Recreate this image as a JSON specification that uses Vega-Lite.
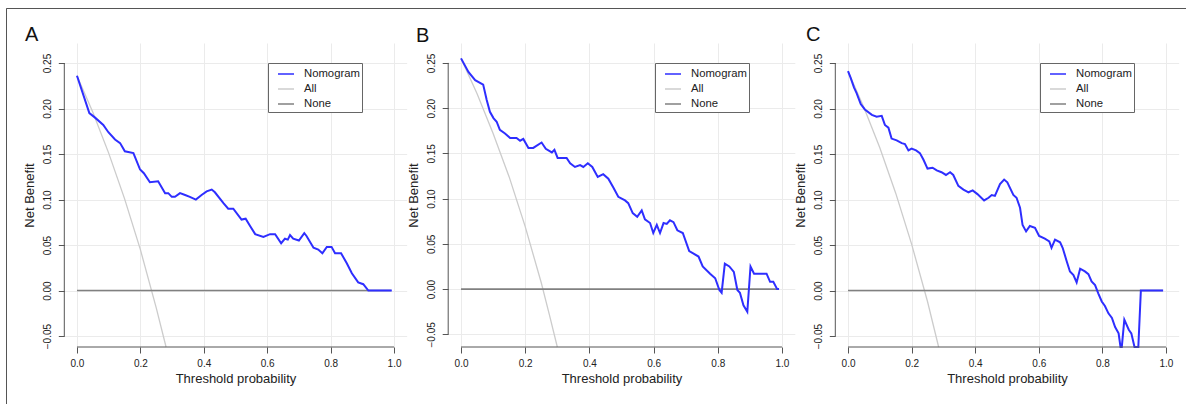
{
  "$schema": "https://vega.github.io/schema/vega-lite/v6.json",
  "width": 1180,
  "height": 396,
  "autosize": {"type": "none"},
  "padding": {"left": 6, "top": 8, "right": 0, "bottom": 0},
  "config": {
    "font": "Liberation Sans",
    "view": {"stroke": "#555555", "strokeWidth": 1, "strokeDash": [1180, 1576, 396]},
    "axis": {"labelFont": "Liberation Sans", "titleFont": "Liberation Sans", "labelColor": "#222222", "titleColor": "#222222", "tickColor": "#555555", "gridColor": "#ebebeb", "gridWidth": 1, "titleFontWeight": "normal", "labelFontSize": 10, "titleFontSize": 13},
    "legend": {"labelFont": "Liberation Sans", "labelColor": "#222222"}
  },
  "datasets": {
    "A": [
      {"series": "All", "threshold": 0, "net_benefit": 0.236},
      {"series": "All", "threshold": 0.05, "net_benefit": 0.196},
      {"series": "All", "threshold": 0.1, "net_benefit": 0.151},
      {"series": "All", "threshold": 0.15, "net_benefit": 0.101},
      {"series": "All", "threshold": 0.2, "net_benefit": 0.045},
      {"series": "All", "threshold": 0.25, "net_benefit": -0.019},
      {"series": "All", "threshold": 0.281, "net_benefit": -0.062},
      {"series": "None", "threshold": 0, "net_benefit": 0},
      {"series": "None", "threshold": 0.99, "net_benefit": 0},
      {"series": "Nomogram", "threshold": 0, "net_benefit": 0.236},
      {"series": "Nomogram", "threshold": 0.039, "net_benefit": 0.195},
      {"series": "Nomogram", "threshold": 0.057, "net_benefit": 0.19},
      {"series": "Nomogram", "threshold": 0.083, "net_benefit": 0.182},
      {"series": "Nomogram", "threshold": 0.099, "net_benefit": 0.174},
      {"series": "Nomogram", "threshold": 0.12, "net_benefit": 0.166},
      {"series": "Nomogram", "threshold": 0.136, "net_benefit": 0.162},
      {"series": "Nomogram", "threshold": 0.151, "net_benefit": 0.153},
      {"series": "Nomogram", "threshold": 0.178, "net_benefit": 0.151},
      {"series": "Nomogram", "threshold": 0.199, "net_benefit": 0.133},
      {"series": "Nomogram", "threshold": 0.211, "net_benefit": 0.129},
      {"series": "Nomogram", "threshold": 0.23, "net_benefit": 0.119},
      {"series": "Nomogram", "threshold": 0.256, "net_benefit": 0.12},
      {"series": "Nomogram", "threshold": 0.278, "net_benefit": 0.107},
      {"series": "Nomogram", "threshold": 0.288, "net_benefit": 0.107},
      {"series": "Nomogram", "threshold": 0.299, "net_benefit": 0.103},
      {"series": "Nomogram", "threshold": 0.309, "net_benefit": 0.103},
      {"series": "Nomogram", "threshold": 0.325, "net_benefit": 0.107},
      {"series": "Nomogram", "threshold": 0.341, "net_benefit": 0.105},
      {"series": "Nomogram", "threshold": 0.356, "net_benefit": 0.103},
      {"series": "Nomogram", "threshold": 0.375, "net_benefit": 0.1},
      {"series": "Nomogram", "threshold": 0.393, "net_benefit": 0.105},
      {"series": "Nomogram", "threshold": 0.409, "net_benefit": 0.109},
      {"series": "Nomogram", "threshold": 0.425, "net_benefit": 0.111},
      {"series": "Nomogram", "threshold": 0.435, "net_benefit": 0.108},
      {"series": "Nomogram", "threshold": 0.462, "net_benefit": 0.096},
      {"series": "Nomogram", "threshold": 0.477, "net_benefit": 0.09},
      {"series": "Nomogram", "threshold": 0.493, "net_benefit": 0.09},
      {"series": "Nomogram", "threshold": 0.519, "net_benefit": 0.078},
      {"series": "Nomogram", "threshold": 0.532, "net_benefit": 0.079},
      {"series": "Nomogram", "threshold": 0.546, "net_benefit": 0.071},
      {"series": "Nomogram", "threshold": 0.562, "net_benefit": 0.062},
      {"series": "Nomogram", "threshold": 0.588, "net_benefit": 0.059},
      {"series": "Nomogram", "threshold": 0.609, "net_benefit": 0.062},
      {"series": "Nomogram", "threshold": 0.625, "net_benefit": 0.062},
      {"series": "Nomogram", "threshold": 0.644, "net_benefit": 0.052},
      {"series": "Nomogram", "threshold": 0.656, "net_benefit": 0.057},
      {"series": "Nomogram", "threshold": 0.665, "net_benefit": 0.056},
      {"series": "Nomogram", "threshold": 0.672, "net_benefit": 0.061},
      {"series": "Nomogram", "threshold": 0.682, "net_benefit": 0.057},
      {"series": "Nomogram", "threshold": 0.7, "net_benefit": 0.055},
      {"series": "Nomogram", "threshold": 0.717, "net_benefit": 0.063},
      {"series": "Nomogram", "threshold": 0.724, "net_benefit": 0.06},
      {"series": "Nomogram", "threshold": 0.746, "net_benefit": 0.047},
      {"series": "Nomogram", "threshold": 0.761, "net_benefit": 0.045},
      {"series": "Nomogram", "threshold": 0.774, "net_benefit": 0.041},
      {"series": "Nomogram", "threshold": 0.788, "net_benefit": 0.048},
      {"series": "Nomogram", "threshold": 0.803, "net_benefit": 0.048},
      {"series": "Nomogram", "threshold": 0.814, "net_benefit": 0.041},
      {"series": "Nomogram", "threshold": 0.833, "net_benefit": 0.041},
      {"series": "Nomogram", "threshold": 0.851, "net_benefit": 0.03},
      {"series": "Nomogram", "threshold": 0.867, "net_benefit": 0.019},
      {"series": "Nomogram", "threshold": 0.887, "net_benefit": 0.009},
      {"series": "Nomogram", "threshold": 0.903, "net_benefit": 0.007},
      {"series": "Nomogram", "threshold": 0.919, "net_benefit": 0},
      {"series": "Nomogram", "threshold": 0.993, "net_benefit": 0}
    ],
    "B": [
      {"series": "All", "threshold": 0, "net_benefit": 0.255},
      {"series": "All", "threshold": 0.05, "net_benefit": 0.216},
      {"series": "All", "threshold": 0.1, "net_benefit": 0.172},
      {"series": "All", "threshold": 0.15, "net_benefit": 0.124},
      {"series": "All", "threshold": 0.2, "net_benefit": 0.069},
      {"series": "All", "threshold": 0.25, "net_benefit": 0.007},
      {"series": "All", "threshold": 0.275, "net_benefit": -0.028},
      {"series": "All", "threshold": 0.3, "net_benefit": -0.064},
      {"series": "None", "threshold": 0, "net_benefit": 0},
      {"series": "None", "threshold": 0.99, "net_benefit": 0},
      {"series": "Nomogram", "threshold": 0, "net_benefit": 0.255},
      {"series": "Nomogram", "threshold": 0.023, "net_benefit": 0.24},
      {"series": "Nomogram", "threshold": 0.044, "net_benefit": 0.231},
      {"series": "Nomogram", "threshold": 0.069, "net_benefit": 0.226},
      {"series": "Nomogram", "threshold": 0.08, "net_benefit": 0.209},
      {"series": "Nomogram", "threshold": 0.09, "net_benefit": 0.196},
      {"series": "Nomogram", "threshold": 0.101, "net_benefit": 0.189},
      {"series": "Nomogram", "threshold": 0.111, "net_benefit": 0.185},
      {"series": "Nomogram", "threshold": 0.121, "net_benefit": 0.176},
      {"series": "Nomogram", "threshold": 0.137, "net_benefit": 0.172},
      {"series": "Nomogram", "threshold": 0.153, "net_benefit": 0.167},
      {"series": "Nomogram", "threshold": 0.173, "net_benefit": 0.167},
      {"series": "Nomogram", "threshold": 0.184, "net_benefit": 0.164},
      {"series": "Nomogram", "threshold": 0.194, "net_benefit": 0.166},
      {"series": "Nomogram", "threshold": 0.21, "net_benefit": 0.156},
      {"series": "Nomogram", "threshold": 0.225, "net_benefit": 0.156},
      {"series": "Nomogram", "threshold": 0.251, "net_benefit": 0.162},
      {"series": "Nomogram", "threshold": 0.264, "net_benefit": 0.155},
      {"series": "Nomogram", "threshold": 0.283, "net_benefit": 0.151},
      {"series": "Nomogram", "threshold": 0.291, "net_benefit": 0.154},
      {"series": "Nomogram", "threshold": 0.301, "net_benefit": 0.145},
      {"series": "Nomogram", "threshold": 0.314, "net_benefit": 0.145},
      {"series": "Nomogram", "threshold": 0.329, "net_benefit": 0.145},
      {"series": "Nomogram", "threshold": 0.34, "net_benefit": 0.139},
      {"series": "Nomogram", "threshold": 0.355, "net_benefit": 0.135},
      {"series": "Nomogram", "threshold": 0.371, "net_benefit": 0.137},
      {"series": "Nomogram", "threshold": 0.381, "net_benefit": 0.135},
      {"series": "Nomogram", "threshold": 0.395, "net_benefit": 0.139},
      {"series": "Nomogram", "threshold": 0.409, "net_benefit": 0.135},
      {"series": "Nomogram", "threshold": 0.426, "net_benefit": 0.124},
      {"series": "Nomogram", "threshold": 0.443, "net_benefit": 0.127},
      {"series": "Nomogram", "threshold": 0.459, "net_benefit": 0.122},
      {"series": "Nomogram", "threshold": 0.475, "net_benefit": 0.112},
      {"series": "Nomogram", "threshold": 0.49, "net_benefit": 0.102},
      {"series": "Nomogram", "threshold": 0.511, "net_benefit": 0.098},
      {"series": "Nomogram", "threshold": 0.521, "net_benefit": 0.095},
      {"series": "Nomogram", "threshold": 0.535, "net_benefit": 0.084},
      {"series": "Nomogram", "threshold": 0.549, "net_benefit": 0.08},
      {"series": "Nomogram", "threshold": 0.563, "net_benefit": 0.087},
      {"series": "Nomogram", "threshold": 0.573, "net_benefit": 0.077},
      {"series": "Nomogram", "threshold": 0.589, "net_benefit": 0.073},
      {"series": "Nomogram", "threshold": 0.599, "net_benefit": 0.062},
      {"series": "Nomogram", "threshold": 0.61, "net_benefit": 0.071},
      {"series": "Nomogram", "threshold": 0.62, "net_benefit": 0.062},
      {"series": "Nomogram", "threshold": 0.631, "net_benefit": 0.073},
      {"series": "Nomogram", "threshold": 0.641, "net_benefit": 0.072},
      {"series": "Nomogram", "threshold": 0.651, "net_benefit": 0.076},
      {"series": "Nomogram", "threshold": 0.662, "net_benefit": 0.074},
      {"series": "Nomogram", "threshold": 0.674, "net_benefit": 0.065},
      {"series": "Nomogram", "threshold": 0.691, "net_benefit": 0.062},
      {"series": "Nomogram", "threshold": 0.711, "net_benefit": 0.042},
      {"series": "Nomogram", "threshold": 0.74, "net_benefit": 0.036},
      {"series": "Nomogram", "threshold": 0.753, "net_benefit": 0.025},
      {"series": "Nomogram", "threshold": 0.776, "net_benefit": 0.017},
      {"series": "Nomogram", "threshold": 0.792, "net_benefit": 0.012},
      {"series": "Nomogram", "threshold": 0.805, "net_benefit": -0.001},
      {"series": "Nomogram", "threshold": 0.812, "net_benefit": -0.004},
      {"series": "Nomogram", "threshold": 0.822, "net_benefit": 0.028},
      {"series": "Nomogram", "threshold": 0.836, "net_benefit": 0.025},
      {"series": "Nomogram", "threshold": 0.85, "net_benefit": 0.019},
      {"series": "Nomogram", "threshold": 0.861, "net_benefit": -0.001},
      {"series": "Nomogram", "threshold": 0.869, "net_benefit": -0.004},
      {"series": "Nomogram", "threshold": 0.88, "net_benefit": -0.018},
      {"series": "Nomogram", "threshold": 0.892, "net_benefit": -0.025},
      {"series": "Nomogram", "threshold": 0.902, "net_benefit": 0.025},
      {"series": "Nomogram", "threshold": 0.913, "net_benefit": 0.017},
      {"series": "Nomogram", "threshold": 0.952, "net_benefit": 0.017},
      {"series": "Nomogram", "threshold": 0.963, "net_benefit": 0.008},
      {"series": "Nomogram", "threshold": 0.973, "net_benefit": 0.008},
      {"series": "Nomogram", "threshold": 0.985, "net_benefit": 0},
      {"series": "Nomogram", "threshold": 0.991, "net_benefit": 0}
    ],
    "C": [
      {"series": "All", "threshold": 0, "net_benefit": 0.241},
      {"series": "All", "threshold": 0.05, "net_benefit": 0.201},
      {"series": "All", "threshold": 0.1, "net_benefit": 0.157},
      {"series": "All", "threshold": 0.15, "net_benefit": 0.107},
      {"series": "All", "threshold": 0.2, "net_benefit": 0.051},
      {"series": "All", "threshold": 0.25, "net_benefit": -0.012},
      {"series": "All", "threshold": 0.285, "net_benefit": -0.062},
      {"series": "None", "threshold": 0, "net_benefit": 0},
      {"series": "None", "threshold": 0.99, "net_benefit": 0},
      {"series": "Nomogram", "threshold": 0, "net_benefit": 0.241},
      {"series": "Nomogram", "threshold": 0.008, "net_benefit": 0.234},
      {"series": "Nomogram", "threshold": 0.019, "net_benefit": 0.223},
      {"series": "Nomogram", "threshold": 0.027, "net_benefit": 0.217},
      {"series": "Nomogram", "threshold": 0.04, "net_benefit": 0.205},
      {"series": "Nomogram", "threshold": 0.053, "net_benefit": 0.199},
      {"series": "Nomogram", "threshold": 0.075, "net_benefit": 0.193},
      {"series": "Nomogram", "threshold": 0.09, "net_benefit": 0.191},
      {"series": "Nomogram", "threshold": 0.106, "net_benefit": 0.192},
      {"series": "Nomogram", "threshold": 0.116, "net_benefit": 0.182},
      {"series": "Nomogram", "threshold": 0.127, "net_benefit": 0.179},
      {"series": "Nomogram", "threshold": 0.137, "net_benefit": 0.167},
      {"series": "Nomogram", "threshold": 0.153, "net_benefit": 0.165},
      {"series": "Nomogram", "threshold": 0.169, "net_benefit": 0.162},
      {"series": "Nomogram", "threshold": 0.179, "net_benefit": 0.161},
      {"series": "Nomogram", "threshold": 0.19, "net_benefit": 0.154},
      {"series": "Nomogram", "threshold": 0.2, "net_benefit": 0.156},
      {"series": "Nomogram", "threshold": 0.214, "net_benefit": 0.154},
      {"series": "Nomogram", "threshold": 0.226, "net_benefit": 0.151},
      {"series": "Nomogram", "threshold": 0.237, "net_benefit": 0.144},
      {"series": "Nomogram", "threshold": 0.25, "net_benefit": 0.134},
      {"series": "Nomogram", "threshold": 0.266, "net_benefit": 0.135},
      {"series": "Nomogram", "threshold": 0.279, "net_benefit": 0.132},
      {"series": "Nomogram", "threshold": 0.294, "net_benefit": 0.13},
      {"series": "Nomogram", "threshold": 0.308, "net_benefit": 0.127},
      {"series": "Nomogram", "threshold": 0.321, "net_benefit": 0.13},
      {"series": "Nomogram", "threshold": 0.331, "net_benefit": 0.127},
      {"series": "Nomogram", "threshold": 0.347, "net_benefit": 0.115},
      {"series": "Nomogram", "threshold": 0.363, "net_benefit": 0.111},
      {"series": "Nomogram", "threshold": 0.379, "net_benefit": 0.108},
      {"series": "Nomogram", "threshold": 0.392, "net_benefit": 0.11},
      {"series": "Nomogram", "threshold": 0.407, "net_benefit": 0.106},
      {"series": "Nomogram", "threshold": 0.428, "net_benefit": 0.099},
      {"series": "Nomogram", "threshold": 0.442, "net_benefit": 0.102},
      {"series": "Nomogram", "threshold": 0.452, "net_benefit": 0.105},
      {"series": "Nomogram", "threshold": 0.462, "net_benefit": 0.104},
      {"series": "Nomogram", "threshold": 0.478, "net_benefit": 0.117},
      {"series": "Nomogram", "threshold": 0.491, "net_benefit": 0.122},
      {"series": "Nomogram", "threshold": 0.501, "net_benefit": 0.119},
      {"series": "Nomogram", "threshold": 0.52, "net_benefit": 0.105},
      {"series": "Nomogram", "threshold": 0.53, "net_benefit": 0.102},
      {"series": "Nomogram", "threshold": 0.541, "net_benefit": 0.091},
      {"series": "Nomogram", "threshold": 0.549, "net_benefit": 0.072},
      {"series": "Nomogram", "threshold": 0.56, "net_benefit": 0.065},
      {"series": "Nomogram", "threshold": 0.572, "net_benefit": 0.071},
      {"series": "Nomogram", "threshold": 0.588, "net_benefit": 0.069},
      {"series": "Nomogram", "threshold": 0.601, "net_benefit": 0.06},
      {"series": "Nomogram", "threshold": 0.619, "net_benefit": 0.057},
      {"series": "Nomogram", "threshold": 0.633, "net_benefit": 0.054},
      {"series": "Nomogram", "threshold": 0.64, "net_benefit": 0.047},
      {"series": "Nomogram", "threshold": 0.651, "net_benefit": 0.056},
      {"series": "Nomogram", "threshold": 0.667, "net_benefit": 0.053},
      {"series": "Nomogram", "threshold": 0.675, "net_benefit": 0.047},
      {"series": "Nomogram", "threshold": 0.688, "net_benefit": 0.032},
      {"series": "Nomogram", "threshold": 0.698, "net_benefit": 0.021},
      {"series": "Nomogram", "threshold": 0.709, "net_benefit": 0.017},
      {"series": "Nomogram", "threshold": 0.719, "net_benefit": 0.009},
      {"series": "Nomogram", "threshold": 0.73, "net_benefit": 0.024},
      {"series": "Nomogram", "threshold": 0.745, "net_benefit": 0.021},
      {"series": "Nomogram", "threshold": 0.756, "net_benefit": 0.018},
      {"series": "Nomogram", "threshold": 0.766, "net_benefit": 0.01},
      {"series": "Nomogram", "threshold": 0.777, "net_benefit": 0.006},
      {"series": "Nomogram", "threshold": 0.787, "net_benefit": -0.003},
      {"series": "Nomogram", "threshold": 0.798, "net_benefit": -0.012},
      {"series": "Nomogram", "threshold": 0.808, "net_benefit": -0.017},
      {"series": "Nomogram", "threshold": 0.819, "net_benefit": -0.025},
      {"series": "Nomogram", "threshold": 0.83, "net_benefit": -0.03},
      {"series": "Nomogram", "threshold": 0.84, "net_benefit": -0.04},
      {"series": "Nomogram", "threshold": 0.851, "net_benefit": -0.047},
      {"series": "Nomogram", "threshold": 0.857, "net_benefit": -0.062},
      {"series": "Nomogram", "threshold": 0.861, "net_benefit": -0.062},
      {"series": "Nomogram", "threshold": 0.869, "net_benefit": -0.032},
      {"series": "Nomogram", "threshold": 0.883, "net_benefit": -0.043},
      {"series": "Nomogram", "threshold": 0.891, "net_benefit": -0.047},
      {"series": "Nomogram", "threshold": 0.901, "net_benefit": -0.062},
      {"series": "Nomogram", "threshold": 0.913, "net_benefit": -0.062},
      {"series": "Nomogram", "threshold": 0.921, "net_benefit": 0},
      {"series": "Nomogram", "threshold": 0.991, "net_benefit": 0}
    ]
  },
  "resolve": {
    "scale": {"x": "independent", "y": "independent", "color": "independent"},
    "axis": {"x": "independent", "y": "independent"},
    "legend": {"color": "independent"}
  },
  "layer": [
    {
      "data": {"name": "A"},
      "resolve": {"axis": {"x": "independent", "y": "independent"}},
      "layer": [
        {
          "transform": [{"filter": "datum.series === 'All'"}],
          "mark": {"type": "line", "strokeWidth": 1.3},
          "encoding": {
            "x": {"field": "threshold", "type": "quantitative", "scale": {"domain": [-0.04, 1.04], "range": [58.3, 400.7], "nice": false, "zero": false}, "axis": {"orient": "top", "grid": true, "domain": false, "ticks": false, "labels": false, "title": null, "values": [0, 0.2, 0.4, 0.6, 0.8, 1]}},
            "y": {"field": "net_benefit", "type": "quantitative", "scale": {"domain": [-0.062, 0.272], "range": [339, 35], "nice": false, "zero": false}, "axis": {"orient": "left", "offset": -58.3, "values": [-0.05, 0, 0.05, 0.1, 0.15, 0.2, 0.25], "format": ".2f", "grid": true, "domain": false, "tickSize": 6, "labelAngle": -90, "labelAlign": "center", "labelBaseline": "alphabetic", "labelPadding": 8, "title": "Net Benefit", "titlePadding": 6}},
            "color": {"field": "series", "type": "nominal", "scale": {"domain": ["Nomogram", "All", "None"], "range": ["#2e2eff", "#cccccc", "#808080"]}, "legend": {"orient": "none", "legendX": 262, "legendY": 55, "title": null, "symbolType": "stroke", "symbolSize": 256, "symbolStrokeWidth": 1.5, "labelFontSize": 11.3, "padding": 2, "symbolOffset": 7, "labelOffset": 9, "rowPadding": -2.5, "strokeColor": "#666666", "fillColor": "#ffffff"}}
          }
        },
        {
          "transform": [{"filter": "datum.series === 'None'"}],
          "mark": {"type": "line", "strokeWidth": 1.6},
          "encoding": {
            "x": {"field": "threshold", "type": "quantitative", "axis": null},
            "y": {"field": "net_benefit", "type": "quantitative", "axis": null},
            "color": {"field": "series", "type": "nominal"}
          }
        },
        {
          "transform": [{"filter": "datum.series === 'Nomogram'"}],
          "mark": {"type": "line", "strokeWidth": 2},
          "encoding": {
            "x": {"field": "threshold", "type": "quantitative", "axis": {"orient": "bottom", "offset": -57, "values": [0, 0.2, 0.4, 0.6, 0.8, 1], "format": ".1f", "grid": false, "domain": false, "tickSize": 6, "labelPadding": 5, "labelFlush": false, "labelOverlap": false, "title": "Threshold probability", "titlePadding": 4}},
            "y": {"field": "net_benefit", "type": "quantitative", "axis": null},
            "color": {"field": "series", "type": "nominal"}
          }
        },
        {
          "data": {"values": [{}]},
          "mark": {"type": "rule", "color": "#555555", "strokeWidth": 1},
          "encoding": {
            "x": {"datum": -0.04, "type": "quantitative", "axis": null},
            "y": {"datum": -0.05, "type": "quantitative", "axis": null},
            "y2": {"datum": 0.25}
          }
        },
        {
          "data": {"values": [{}]},
          "mark": {"type": "rule", "color": "#555555", "strokeWidth": 1},
          "encoding": {
            "x": {"datum": 0, "type": "quantitative", "axis": null},
            "x2": {"datum": 1},
            "y": {"datum": -0.062, "type": "quantitative", "axis": null}
          }
        },
        {
          "data": {"values": [{}]},
          "mark": {"type": "text", "text": "A", "fontSize": 20, "align": "left", "baseline": "alphabetic", "color": "#111111"},
          "encoding": {
            "x": {"datum": -0.164, "type": "quantitative", "axis": null},
            "y": {"datum": 0.274, "type": "quantitative", "axis": null}
          }
        }
      ]
    },
    {
      "data": {"name": "B"},
      "resolve": {"axis": {"x": "independent", "y": "independent"}},
      "layer": [
        {
          "transform": [{"filter": "datum.series === 'All'"}],
          "mark": {"type": "line", "strokeWidth": 1.3},
          "encoding": {
            "x": {"field": "threshold", "type": "quantitative", "scale": {"domain": [-0.04, 1.04], "range": [442.2, 788.8], "nice": false, "zero": false}, "axis": {"orient": "top", "grid": true, "domain": false, "ticks": false, "labels": false, "title": null, "values": [0, 0.2, 0.4, 0.6, 0.8, 1]}},
            "y": {"field": "net_benefit", "type": "quantitative", "scale": {"domain": [-0.064, 0.272], "range": [339, 35], "nice": false, "zero": false}, "axis": {"orient": "left", "offset": -442.2, "values": [-0.05, 0, 0.05, 0.1, 0.15, 0.2, 0.25], "format": ".2f", "grid": true, "domain": false, "tickSize": 6, "labelAngle": -90, "labelAlign": "center", "labelBaseline": "alphabetic", "labelPadding": 8, "title": "Net Benefit", "titlePadding": 6}},
            "color": {"field": "series", "type": "nominal", "scale": {"domain": ["Nomogram", "All", "None"], "range": ["#2e2eff", "#cccccc", "#808080"]}, "legend": {"orient": "none", "legendX": 649, "legendY": 55, "title": null, "symbolType": "stroke", "symbolSize": 256, "symbolStrokeWidth": 1.5, "labelFontSize": 11.3, "padding": 2, "symbolOffset": 7, "labelOffset": 9, "rowPadding": -2.5, "strokeColor": "#666666", "fillColor": "#ffffff"}}
          }
        },
        {
          "transform": [{"filter": "datum.series === 'None'"}],
          "mark": {"type": "line", "strokeWidth": 1.6},
          "encoding": {
            "x": {"field": "threshold", "type": "quantitative", "axis": null},
            "y": {"field": "net_benefit", "type": "quantitative", "axis": null},
            "color": {"field": "series", "type": "nominal"}
          }
        },
        {
          "transform": [{"filter": "datum.series === 'Nomogram'"}],
          "mark": {"type": "line", "strokeWidth": 2},
          "encoding": {
            "x": {"field": "threshold", "type": "quantitative", "axis": {"orient": "bottom", "offset": -57, "values": [0, 0.2, 0.4, 0.6, 0.8, 1], "format": ".1f", "grid": false, "domain": false, "tickSize": 6, "labelPadding": 5, "labelFlush": false, "labelOverlap": false, "title": "Threshold probability", "titlePadding": 4}},
            "y": {"field": "net_benefit", "type": "quantitative", "axis": null},
            "color": {"field": "series", "type": "nominal"}
          }
        },
        {
          "data": {"values": [{}]},
          "mark": {"type": "rule", "color": "#555555", "strokeWidth": 1},
          "encoding": {
            "x": {"datum": -0.04, "type": "quantitative", "axis": null},
            "y": {"datum": -0.05, "type": "quantitative", "axis": null},
            "y2": {"datum": 0.25}
          }
        },
        {
          "data": {"values": [{}]},
          "mark": {"type": "rule", "color": "#555555", "strokeWidth": 1},
          "encoding": {
            "x": {"datum": 0, "type": "quantitative", "axis": null},
            "x2": {"datum": 1},
            "y": {"datum": -0.064, "type": "quantitative", "axis": null}
          }
        },
        {
          "data": {"values": [{}]},
          "mark": {"type": "text", "text": "B", "fontSize": 20, "align": "left", "baseline": "alphabetic", "color": "#111111"},
          "encoding": {
            "x": {"datum": -0.14, "type": "quantitative", "axis": null},
            "y": {"datum": 0.2736, "type": "quantitative", "axis": null}
          }
        }
      ]
    },
    {
      "data": {"name": "C"},
      "resolve": {"axis": {"x": "independent", "y": "independent"}},
      "layer": [
        {
          "transform": [{"filter": "datum.series === 'All'"}],
          "mark": {"type": "line", "strokeWidth": 1.3},
          "encoding": {
            "x": {"field": "threshold", "type": "quantitative", "scale": {"domain": [-0.04, 1.04], "range": [829.3, 1172.7], "nice": false, "zero": false}, "axis": {"orient": "top", "grid": true, "domain": false, "ticks": false, "labels": false, "title": null, "values": [0, 0.2, 0.4, 0.6, 0.8, 1]}},
            "y": {"field": "net_benefit", "type": "quantitative", "scale": {"domain": [-0.062, 0.272], "range": [339, 35], "nice": false, "zero": false}, "axis": {"orient": "left", "offset": -829.3, "values": [-0.05, 0, 0.05, 0.1, 0.15, 0.2, 0.25], "format": ".2f", "grid": true, "domain": false, "tickSize": 6, "labelAngle": -90, "labelAlign": "center", "labelBaseline": "alphabetic", "labelPadding": 8, "title": "Net Benefit", "titlePadding": 6}},
            "color": {"field": "series", "type": "nominal", "scale": {"domain": ["Nomogram", "All", "None"], "range": ["#2e2eff", "#cccccc", "#808080"]}, "legend": {"orient": "none", "legendX": 1034, "legendY": 55, "title": null, "symbolType": "stroke", "symbolSize": 256, "symbolStrokeWidth": 1.5, "labelFontSize": 11.3, "padding": 2, "symbolOffset": 7, "labelOffset": 9, "rowPadding": -2.5, "strokeColor": "#666666", "fillColor": "#ffffff"}}
          }
        },
        {
          "transform": [{"filter": "datum.series === 'None'"}],
          "mark": {"type": "line", "strokeWidth": 1.6},
          "encoding": {
            "x": {"field": "threshold", "type": "quantitative", "axis": null},
            "y": {"field": "net_benefit", "type": "quantitative", "axis": null},
            "color": {"field": "series", "type": "nominal"}
          }
        },
        {
          "transform": [{"filter": "datum.series === 'Nomogram'"}],
          "mark": {"type": "line", "strokeWidth": 2},
          "encoding": {
            "x": {"field": "threshold", "type": "quantitative", "axis": {"orient": "bottom", "offset": -57, "values": [0, 0.2, 0.4, 0.6, 0.8, 1], "format": ".1f", "grid": false, "domain": false, "tickSize": 6, "labelPadding": 5, "labelFlush": false, "labelOverlap": false, "title": "Threshold probability", "titlePadding": 4}},
            "y": {"field": "net_benefit", "type": "quantitative", "axis": null},
            "color": {"field": "series", "type": "nominal"}
          }
        },
        {
          "data": {"values": [{}]},
          "mark": {"type": "rule", "color": "#555555", "strokeWidth": 1},
          "encoding": {
            "x": {"datum": -0.04, "type": "quantitative", "axis": null},
            "y": {"datum": -0.05, "type": "quantitative", "axis": null},
            "y2": {"datum": 0.25}
          }
        },
        {
          "data": {"values": [{}]},
          "mark": {"type": "rule", "color": "#555555", "strokeWidth": 1},
          "encoding": {
            "x": {"datum": 0, "type": "quantitative", "axis": null},
            "x2": {"datum": 1},
            "y": {"datum": -0.062, "type": "quantitative", "axis": null}
          }
        },
        {
          "data": {"values": [{}]},
          "mark": {"type": "text", "text": "C", "fontSize": 20, "align": "left", "baseline": "alphabetic", "color": "#111111"},
          "encoding": {
            "x": {"datum": -0.132, "type": "quantitative", "axis": null},
            "y": {"datum": 0.274, "type": "quantitative", "axis": null}
          }
        }
      ]
    }
  ]
}
